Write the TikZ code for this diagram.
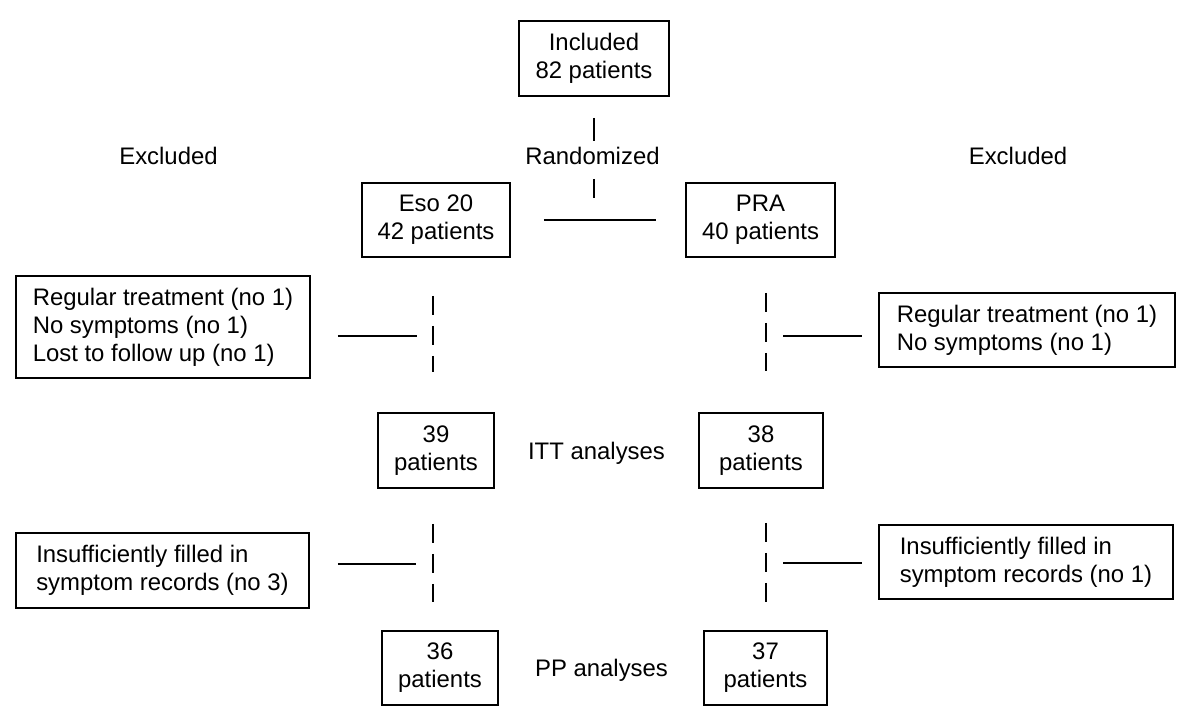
\documentclass[tikz,border=0pt]{standalone}
\usepackage{fontspec}
\setmainfont{Liberation Sans}
\begin{document}
\begin{tikzpicture}[x=0.025cm, y=-0.025cm, font=\fontsize{17}{20}\selectfont, line width=1.1pt,
	box/.style={draw, align=center, inner sep=0pt, minimum height=1.875cm},
	exbox/.style={draw, align=left, inner sep=0pt, minimum height=1.85cm},
	bars/.style={dash pattern=on 0.475cm off 0.275cm}]
	\useasboundingbox (0,0) rectangle (1200,727);
	% boxes
	\node[box, minimum width=3.75cm] (incl) at (594,58.5) {Included\\82 patients};
	\node[box, minimum width=3.7cm, minimum height=1.85cm] (eso) at (436,220) {Eso 20\\42 patients};
	\node[box, minimum width=3.725cm, minimum height=1.85cm] (pra) at (760.5,220) {PRA\\40 patients};
	\node[box, minimum width=2.9cm] (ittL) at (436,450.5) {39\\patients};
	\node[box, minimum width=3.1cm] (ittR) at (761,450.5) {38\\patients};
	\node[box, minimum width=2.9cm, minimum height=1.85cm] (ppL) at (440,668) {36\\patients};
	\node[box, minimum width=3.075cm, minimum height=1.85cm] (ppR) at (765.5,668) {37\\patients};
	\node[exbox, minimum width=7.35cm, minimum height=2.55cm] (exL1) at (163,327) {Regular treatment (no 1)\\No symptoms (no 1)\\Lost to follow up (no 1)};
	\node[exbox, minimum width=7.4cm] (exR1) at (1027,330) {Regular treatment (no 1)\\No symptoms (no 1)};
	\node[exbox, minimum width=7.33cm, minimum height=1.875cm] (exL2) at (162.5,570.5) {Insufficiently filled in\\symptom records (no 3)};
	\node[exbox, minimum width=7.35cm] (exR2) at (1026,562) {Insufficiently filled in\\symptom records (no 1)};
	% plain labels
	\path[anchor=base]
	(168.5,165) node (excL){Excluded}
	(1018,165) node (excR){Excluded}
	(592.5,165) node (rand){Randomized}
	(596.5,459) node (itt){ITT analyses}
	(601.5,676) node (pp){PP analyses};
	% bar columns
	\coordinate (colL1) at (433,336); \coordinate (colR1) at (766,336);
	\coordinate (colL2) at (433,564); \coordinate (colR2) at (766,563);
	\draw (incl.south) ++(0,21) -- ++(0,23);
	\draw (incl.south) ++(0,82) -- ++(0,19);
	\draw[shorten <=0.825cm, shorten >=0.725cm] (eso.east) -- (pra.west);
	\draw[bars, shorten <=0.95cm, shorten >=1cm] (eso.south -| colL1) -- (ittL.north -| colL1);
	\draw[bars, shorten <=0.875cm, shorten >=1.025cm] (pra.south -| colR1) -- (ittR.north -| colR1);
	\draw[bars, shorten <=0.875cm, shorten >=0.7cm] (ittL.south -| colL2) -- (ppL.north -| colL2);
	\draw[bars, shorten <=0.85cm, shorten >=0.675cm] (ittR.south -| colR2) -- (ppR.north -| colR2);
	% side lines
	\draw[shorten <=0.675cm, shorten >=0.4cm] (exL1.east |- colL1) -- (colL1);
	\draw[shorten <=0.425cm, shorten >=0.4cm] (colR1) -- (exR1.west |- colR1);
	\draw[shorten <=0.7cm, shorten >=0.425cm] (exL2.east |- colL2) -- (colL2);
	\draw[shorten <=0.425cm, shorten >=0.4cm] (colR2) -- (exR2.west |- colR2);
\end{tikzpicture}
\end{document}
